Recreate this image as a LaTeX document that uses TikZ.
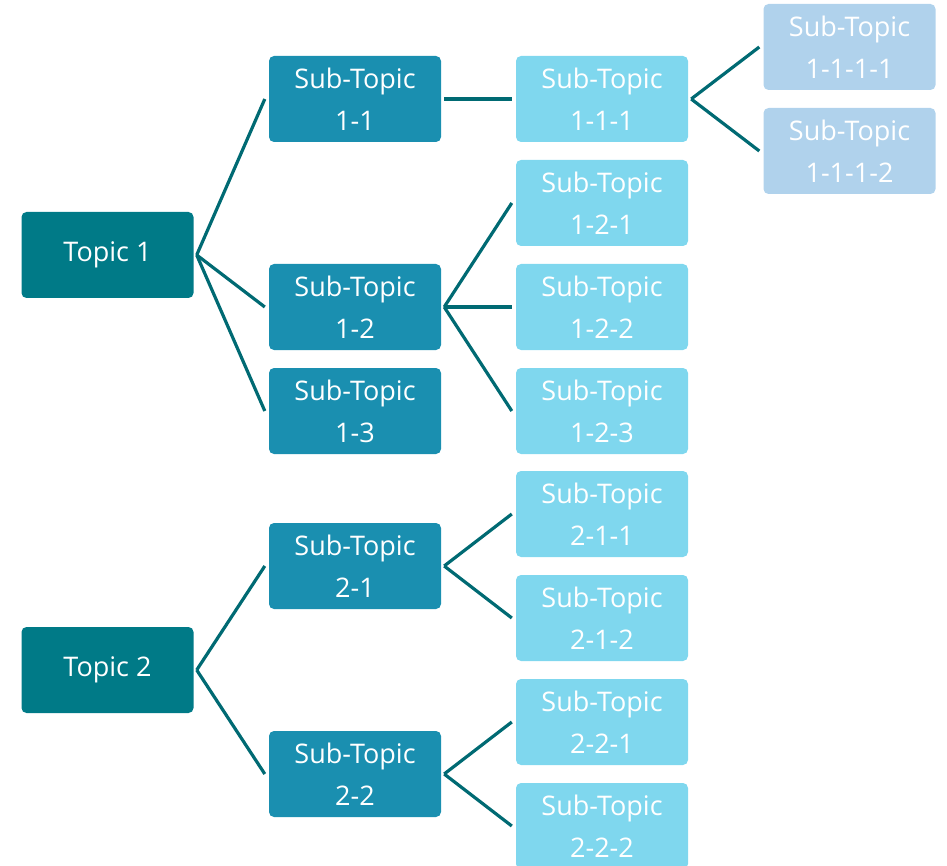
\documentclass[tikz,border=0pt]{standalone}
\usepackage{fontspec}
\setmainfont{Open Sans}
\usepackage{tikz}
\usetikzlibrary{positioning}
\definecolor{topicc}{HTML}{007A87}
\definecolor{subc}{HTML}{1A8FB0}
\definecolor{subsubc}{HTML}{7FD7EE}
\definecolor{leafc}{HTML}{B0D2EC}
\definecolor{linkc}{HTML}{006A73}
\begin{document}
\begin{tikzpicture}[
    x=1pt, y=-1pt,
    every node/.style={font=\fontsize{27}{42}\selectfont, text=white, align=center},
    box/.style={rectangle, rounded corners=5pt, minimum width=172pt, minimum height=86pt, inner sep=0pt},
    topicbox/.style={box, fill=topicc},
    subbox/.style={box, fill=subc},
    subsubbox/.style={box, fill=subsubc},
    leafbox/.style={box, fill=leafc},
    link/.style={draw=linkc, line width=3.2pt},
]
\useasboundingbox (0,0) rectangle (947,866);
\clip (0,0) rectangle (947,866);
% Topics
\node[topicbox] (t1) at (107.5,255) {Topic 1};
\node[topicbox] (t2) at (107.5,670) {Topic 2};
% Level 2
\node[subbox] (s11) at (355,99) {Sub-Topic\\1-1};
\node[subbox] (s12) at (355,307) {Sub-Topic\\1-2};
\node[subbox] (s13) at (355,411) {Sub-Topic\\1-3};
\node[subbox] (s21) at (355,566) {Sub-Topic\\2-1};
\node[subbox] (s22) at (355,774) {Sub-Topic\\2-2};
% Level 3
\node[subsubbox] (s111) at (602,99) {Sub-Topic\\1-1-1};
\node[subsubbox] (s121) at (602,203) {Sub-Topic\\1-2-1};
\node[subsubbox] (s122) at (602,307) {Sub-Topic\\1-2-2};
\node[subsubbox] (s123) at (602,411) {Sub-Topic\\1-2-3};
\node[subsubbox] (s211) at (602,514) {Sub-Topic\\2-1-1};
\node[subsubbox] (s212) at (602,618) {Sub-Topic\\2-1-2};
\node[subsubbox] (s221) at (602,722) {Sub-Topic\\2-2-1};
\node[subsubbox] (s222) at (602,826) {Sub-Topic\\2-2-2};
% Level 4
\node[leafbox] (s1111) at (849.5,47) {Sub-Topic\\1-1-1-1};
\node[leafbox] (s1112) at (849.5,151) {Sub-Topic\\1-1-1-2};
% Links
\foreach \p/\c in {t1/s11, t1/s12, t1/s13, t2/s21, t2/s22,
    s11/s111, s12/s121, s12/s122, s12/s123,
    s21/s211, s21/s212, s22/s221, s22/s222,
    s111/s1111, s111/s1112} {
    \draw[link] ([xshift=3pt]\p.east) -- ([xshift=-4pt]\c.west);
}
\end{tikzpicture}
\end{document}
